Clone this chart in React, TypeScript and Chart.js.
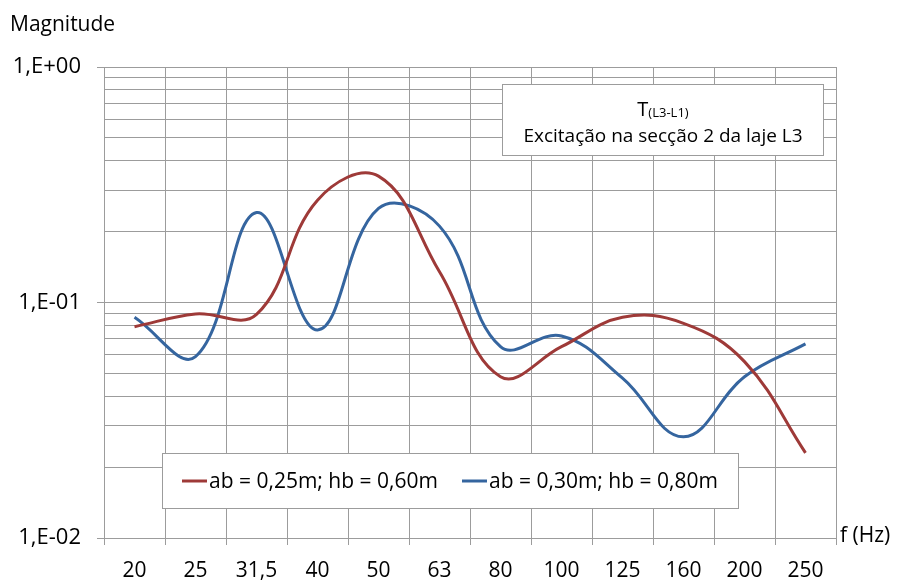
import React, { useEffect, useRef } from 'react';
import { Chart, registerables } from 'chart.js';

Chart.register(...registerables);

// ---- data ----
const categories = ['20', '25', '31,5', '40', '50', '63', '80', '100', '125', '160', '200', '250'];
const redLabel = 'ab = 0,25m; hb = 0,60m';
const blueLabel = 'ab = 0,30m; hb = 0,80m';
const redValues = [0.0789, 0.0894, 0.089, 0.272, 0.344, 0.135, 0.0484, 0.0649, 0.0865, 0.0816, 0.0561, 0.023];
const blueValues = [0.0865, 0.0589, 0.241, 0.0764, 0.251, 0.211, 0.0649, 0.0721, 0.0477, 0.0269, 0.0484, 0.0667];
const yDecades = [0.01, 0.1];
const yMax = 1;
const yMajorLabels: Record<string, string> = { '-2': '1,E-02', '-1': '1,E-01', '0': '1,E+00' };
const yAxisTitle = 'Magnitude';
const xAxisTitle = 'f (Hz)';
const boxTitleMain = 'T';
const boxTitleSub = '(L3-L1)';
const boxSubtitle = 'Excitação na secção 2 da laje L3';

const RED = '#9E3A38';
const BLUE = '#35659F';
const GRID = '#9c9c9c';
const FONT = "'Open Sans', sans-serif";

const yTickValues: number[] = [];
yDecades.forEach((d) => {
  for (let m = 1; m <= 9; m++) yTickValues.push(d * m);
});
yTickValues.push(yMax);

const isMajor = (v: number) => Math.abs(Math.log10(v) - Math.round(Math.log10(v))) < 1e-9;

const overlayPlugin = {
  id: 'overlay',
  afterDraw(chart: any) {
    const ctx = chart.ctx as CanvasRenderingContext2D;
    ctx.save();
    ctx.fillStyle = '#000';
    ctx.textBaseline = 'alphabetic';
    ctx.textAlign = 'left';
    ctx.font = `21px ${FONT}`;
    ctx.fillText(yAxisTitle, 10, 31);
    ctx.fillText(xAxisTitle, 840, 542);

    // annotation box
    ctx.fillStyle = '#fff';
    ctx.fillRect(502.5, 84.5, 321, 71);
    ctx.strokeStyle = GRID;
    ctx.lineWidth = 1;
    ctx.strokeRect(502.5, 84.5, 321, 71);
    ctx.fillStyle = '#000';
    ctx.font = `20px ${FONT}`;
    const wT = ctx.measureText(boxTitleMain).width;
    ctx.font = `13px ${FONT}`;
    const wS = ctx.measureText(boxTitleSub).width;
    const cx = 663;
    const x0 = cx - (wT + wS) / 2;
    ctx.font = `20px ${FONT}`;
    ctx.fillText(boxTitleMain, x0, 116);
    ctx.font = `13px ${FONT}`;
    ctx.fillText(boxTitleSub, x0 + wT, 117);
    ctx.font = `19px ${FONT}`;
    ctx.textAlign = 'center';
    ctx.fillText(boxSubtitle, cx, 142);

    // legend box
    ctx.fillStyle = '#fff';
    ctx.fillRect(162.5, 453.5, 576, 55);
    ctx.strokeStyle = GRID;
    ctx.strokeRect(162.5, 453.5, 576, 55);
    const items = [
      { label: redLabel, color: RED, x: 182 },
      { label: blueLabel, color: BLUE, x: 462 },
    ];
    items.forEach((it) => {
      ctx.strokeStyle = it.color;
      ctx.lineWidth = 3;
      ctx.beginPath();
      ctx.moveTo(it.x, 481);
      ctx.lineTo(it.x + 25, 481);
      ctx.stroke();
      ctx.fillStyle = '#000';
      ctx.textAlign = 'left';
      ctx.font = `21px ${FONT}`;
      ctx.fillText(it.label, it.x + 27, 488);
    });
    ctx.restore();
  },
};

export default function App() {
  const ref = useRef<HTMLCanvasElement | null>(null);
  useEffect(() => {
    document.body.style.margin = '0';
    if (!ref.current) return;
    const chart = new Chart(ref.current, {
      type: 'line',
      data: {
        labels: categories,
        datasets: [
          {
            label: redLabel,
            data: redValues,
            borderColor: RED,
            backgroundColor: RED,
            borderWidth: 3,
            pointRadius: 0,
            tension: 0.4,
            fill: false,
          },
          {
            label: blueLabel,
            data: blueValues,
            borderColor: BLUE,
            backgroundColor: BLUE,
            borderWidth: 3,
            pointRadius: 0,
            tension: 0.4,
            fill: false,
          },
        ],
      },
      options: {
        responsive: false,
        devicePixelRatio: 1,
        animation: false,
        layout: { padding: { left: 0, right: 62, top: 67, bottom: 0 } },
        plugins: {
          legend: { display: false },
          tooltip: { enabled: false },
          title: { display: false },
        },
        scales: {
          x: {
            type: 'category',
            offset: true,
            grid: { offset: true, color: GRID, tickLength: 7, tickColor: GRID },
            border: { color: GRID },
            ticks: {
              color: '#000',
              font: { family: FONT, size: 21 },
              padding: 13,
              maxRotation: 0,
              autoSkip: false,
            },
            afterFit: (scale: any) => {
              scale.height = 43;
            },
          },
          y: {
            type: 'logarithmic',
            min: 0.01,
            max: 1,
            grid: {
              color: GRID,
              tickLength: 7,
              tickColor: (c: any) => (c.tick && isMajor(c.tick.value) ? GRID : 'rgba(0,0,0,0)'),
            },
            border: { color: GRID },
            afterBuildTicks: (scale: any) => {
              scale.ticks = yTickValues.map((v) => ({ value: v }));
            },
            ticks: {
              autoSkip: false,
              color: '#000',
              font: { family: FONT, size: 22 },
              padding: 16,
              callback: (v: any) => {
                const n = Number(v);
                if (!isMajor(n)) return '';
                return yMajorLabels[String(Math.round(Math.log10(n)))] ?? '';
              },
            },
            afterFit: (scale: any) => {
              scale.width = 104;
            },
          },
        },
      },
      plugins: [overlayPlugin],
    } as any);
    return () => chart.destroy();
  }, []);
  return (
    <div style={{ position: 'absolute', left: 0, top: 0, width: 898, height: 581, background: '#fff' }}>
      <canvas ref={ref} width={898} height={581} />
    </div>
  );
}
